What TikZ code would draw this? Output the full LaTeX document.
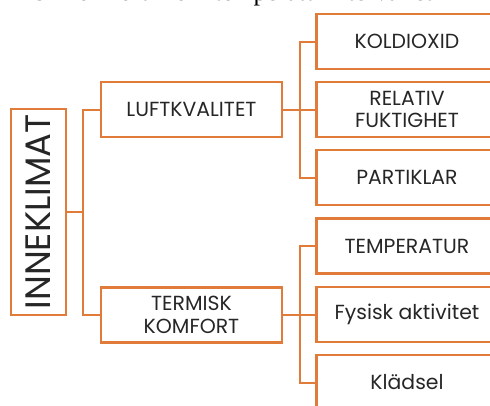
\documentclass[tikz,border=0pt]{standalone}
\usepackage{fontspec}
\setmainfont{Poppins}
\newfontfamily\serifhead{Liberation Serif}
\usetikzlibrary{calc}
\definecolor{accent}{HTML}{E07B39}
\begin{document}
\begin{tikzpicture}[x=0.75pt,y=-0.75pt,
  box/.style={draw=accent, line width=1.6pt, minimum width=135.75pt, minimum height=41.25pt, inner sep=0pt, align=center, font=\fontsize{15.3}{17}\selectfont, text=black!85},
  conn/.style={draw=accent, line width=1.5pt, line join=miter}]
\useasboundingbox (0,0) rectangle (490,405);
\clip (0,0) rectangle (490,405);
\node[anchor=base west, font=\serifhead\fontsize{19.5}{20}\selectfont, inner sep=0pt, outer sep=0pt] (head) at (-20,0.5) {termisk komfort inom temperaturintervallet};
% root
\node[box, minimum width=41.25pt, minimum height=154.5pt] (inne) at (38.5,212) {};
\node[rotate=90, font=\fontsize{26.5}{26.5}\selectfont, text=black!85, inner sep=0pt] (innetext) at (inne.center) {INNEKLIMAT};
% level 1
\node[box] (luft) at (191.5,109.5) {LUFTKVALITET};
\node[box] (term) at (191.5,315) {TERMISK\\KOMFORT};
% level 2
\node[box] (kol) at (407,41.5) {KOLDIOXID};
\node[box] (rel) at (407,109.5) {RELATIV\\FUKTIGHET};
\node[box] (part) at (407,177.5) {PARTIKLAR};
\node[box] (temp) at (407,246) {TEMPERATUR};
\node[box] (fys) at (407,314.5) {Fysisk aktivitet};
\node[box] (klad) at (407,382.5) {Klädsel};
% connectors
\coordinate (j1) at (83,212);
\coordinate (j2) at (299.5,109.5);
\coordinate (j3) at (299.5,315);
\draw[conn] (inne.east) -- (j1);
\draw[conn] (j1) |- (luft.west);
\draw[conn] (j1) |- (term.west);
\draw[conn] (luft.east) -- (j2);
\draw[conn] (j2) |- (kol.west);
\draw[conn] (j2) |- (rel.west);
\draw[conn] (j2) |- (part.west);
\draw[conn] (term.east) -- (j3);
\draw[conn] (j3) |- (temp.west);
\draw[conn] (j3) |- (fys.west);
\draw[conn] (j3) |- (klad.west);
\end{tikzpicture}
\end{document}
